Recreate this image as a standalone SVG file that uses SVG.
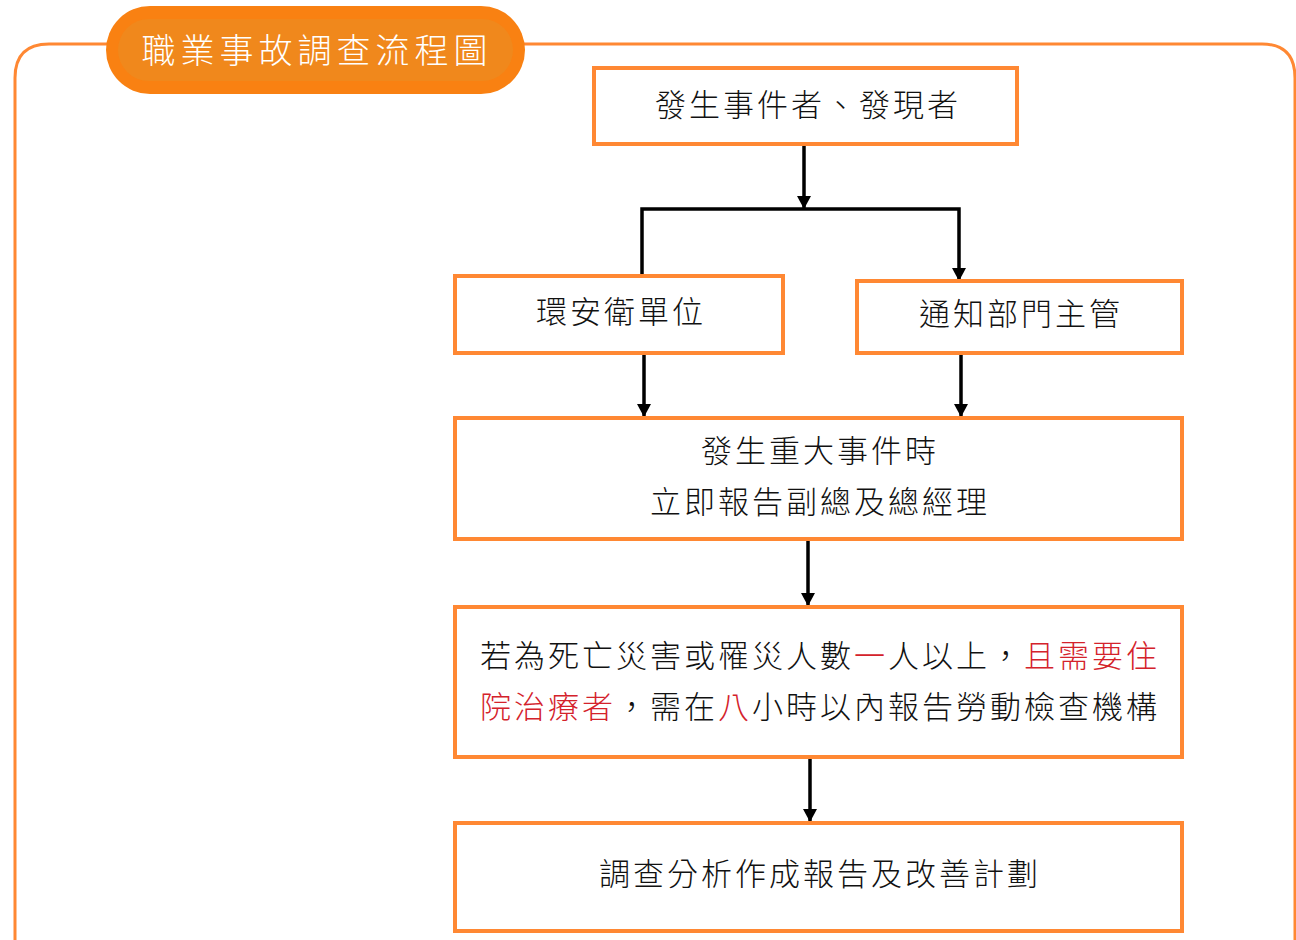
<svg xmlns="http://www.w3.org/2000/svg" width="1296" height="940" viewBox="0 0 1296 940">
<style>
.box{fill:#fff;stroke:#FF8833;stroke-width:4}
.t{font-family:"Noto Sans CJK TC","Noto Sans CJK SC",sans-serif;font-size:31px;font-weight:300;fill:#111;letter-spacing:3px;text-anchor:middle}
.r{fill:#D4222B}
.c{fill:none;stroke:#000;stroke-width:3.5}
</style>
<defs>
<marker id="ah" markerWidth="16" markerHeight="16" refX="15" refY="8" orient="auto" markerUnits="userSpaceOnUse" viewBox="0 0 16 16">
<path d="M2,1 L15,8 L2,15 Z" fill="#000"/>
</marker>
</defs>
<rect width="1296" height="940" fill="#fff"/>
<g id="frame">
<path d="M15,960 L15,78 Q15,44 49,44 L1262,44 Q1295,44 1295,78 L1295,960" fill="none" stroke="#FF8833" stroke-width="3"/>
</g>
<g id="title">
<rect x="106" y="6" width="419" height="88" rx="44" fill="#F98112"/>
<rect x="118" y="19" width="395" height="62" rx="31" fill="#F0881C"/>
<text x="317" y="63" font-family="Noto Sans CJK TC,sans-serif" font-size="34" font-weight="300" fill="#fff" text-anchor="middle" letter-spacing="5">職業事故調查流程圖</text>
</g>
<g id="connectors">
<line class="c" x1="804" y1="146" x2="804" y2="209" marker-end="url(#ah)"/>
<polyline class="c" points="642,276 642,209 959,209 959,281" marker-end="url(#ah)"/>
<line class="c" x1="644" y1="355" x2="644" y2="417" marker-end="url(#ah)"/>
<line class="c" x1="961" y1="355" x2="961" y2="417" marker-end="url(#ah)"/>
<line class="c" x1="808" y1="541" x2="808" y2="606" marker-end="url(#ah)"/>
<line class="c" x1="810" y1="759" x2="810" y2="822" marker-end="url(#ah)"/>
</g>
<g id="n1">
<rect class="box" x="594" y="68" width="423" height="76"/>
<text class="t" x="808" y="116">發生事件者、發現者</text>
</g>
<g id="n2">
<rect class="box" x="455" y="276" width="328" height="77"/>
<text class="t" x="621" y="323">環安衛單位</text>
</g>
<g id="n3">
<rect class="box" x="857" y="281" width="325" height="72"/>
<text class="t" x="1021" y="325">通知部門主管</text>
</g>
<g id="n4">
<rect class="box" x="455" y="418" width="727" height="121"/>
<text class="t" x="820" y="462">發生重大事件時</text>
<text class="t" x="820" y="513">立即報告副總及總經理</text>
</g>
<g id="n5">
<rect class="box" x="455" y="607" width="727" height="150"/>
<text class="t" x="820" y="667">若為死亡災害或罹災人數<tspan class="r">一</tspan>人以上，<tspan class="r">且需要住</tspan></text>
<text class="t" x="820" y="718"><tspan class="r">院治療者</tspan>，需在<tspan class="r">八</tspan>小時以內報告勞動檢查機構</text>
</g>
<g id="n6">
<rect class="box" x="455" y="823" width="727" height="108"/>
<text class="t" x="820" y="885">調查分析作成報告及改善計劃</text>
</g>
</svg>
